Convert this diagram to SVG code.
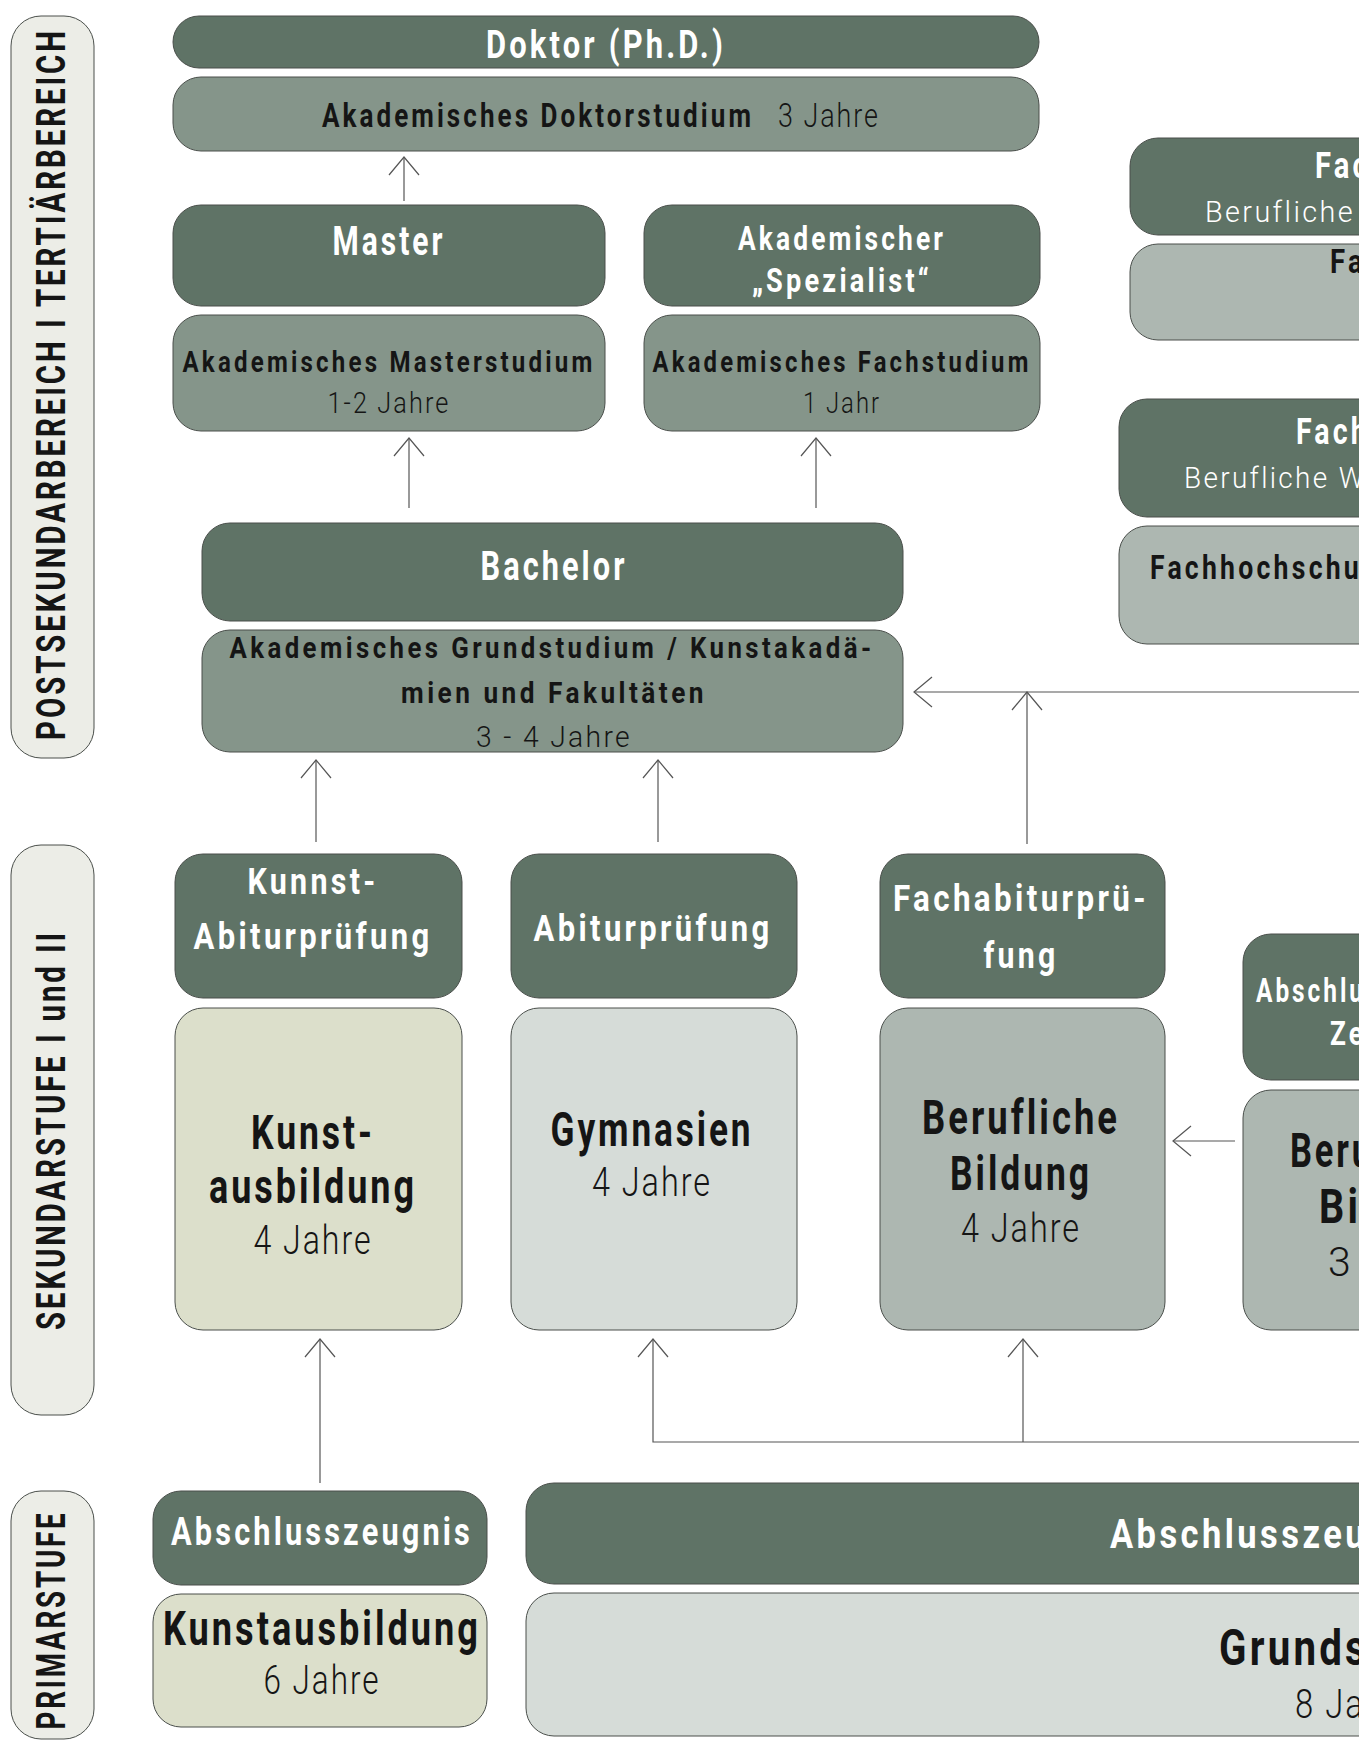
<svg xmlns="http://www.w3.org/2000/svg" width="1359" height="1753" viewBox="0 0 1359 1753">
<style>
text{font-family:Roboto,"Liberation Sans",sans-serif;}
.b{font-weight:700;letter-spacing:4px;}
.l{font-weight:300;letter-spacing:2.5px;}
.w{fill:#ffffff;}
.k{fill:#151515;}
.c{text-anchor:middle;}
.dark{fill:#5f7366;stroke:#4a4f4b;stroke-width:1;}
.mid{fill:#85958a;stroke:#4a4f4b;stroke-width:1;}
.sage{fill:#adb7b1;stroke:#4a4f4b;stroke-width:1;}
.pale{fill:#d6dcd8;stroke:#4a4f4b;stroke-width:1;}
.beige{fill:#dcdfcb;stroke:#4a4f4b;stroke-width:1;}
.lab{fill:#ecede7;stroke:#4a4f4b;stroke-width:1;}
.con{fill:none;stroke:#555;stroke-width:1.2;}
</style>
<defs>
<marker id="ah" markerUnits="userSpaceOnUse" markerWidth="40" markerHeight="40" refX="0" refY="0" viewBox="-20 -20 40 40" orient="auto" overflow="visible">
<path d="M-18,-15 L0,0 L-18,15" fill="none" stroke="#555" stroke-width="1.2"/>
</marker>
</defs>
<rect width="1359" height="1753" fill="#ffffff"/>

<g id="label-tertiaer">
<rect class="lab" x="11" y="16" width="83" height="742" rx="30"/>
<text class="b k c" font-size="40" textLength="712" lengthAdjust="spacingAndGlyphs" transform="translate(65,384) rotate(-90)">POSTSEKUNDARBEREICH  I  TERTIÄRBEREICH</text>
</g>
<g id="label-sekundar">
<rect class="lab" x="11" y="845" width="83" height="570" rx="30"/>
<text class="b k c" font-size="40" textLength="400" lengthAdjust="spacingAndGlyphs" transform="translate(65,1130) rotate(-90)">SEKUNDARSTUFE I und II</text>
</g>
<g id="label-primar">
<rect class="lab" x="11" y="1491" width="83" height="248" rx="30"/>
<text class="b k c" font-size="40" textLength="219" lengthAdjust="spacingAndGlyphs" transform="translate(65,1620) rotate(-90)">PRIMARSTUFE</text>
</g>

<g id="connectors">
<line class="con" x1="404" y1="201" x2="404" y2="157" marker-end="url(#ah)"/>
<line class="con" x1="409" y1="508" x2="409" y2="438" marker-end="url(#ah)"/>
<line class="con" x1="816" y1="508" x2="816" y2="438" marker-end="url(#ah)"/>
<line class="con" x1="316" y1="842" x2="316" y2="760" marker-end="url(#ah)"/>
<line class="con" x1="658" y1="842" x2="658" y2="760" marker-end="url(#ah)"/>
<line class="con" x1="1359" y1="692" x2="914" y2="692" marker-end="url(#ah)"/>
<line class="con" x1="1027" y1="844" x2="1027" y2="692" marker-end="url(#ah)"/>
<line class="con" x1="1235" y1="1141" x2="1173" y2="1141" marker-end="url(#ah)"/>
<line class="con" x1="320" y1="1483" x2="320" y2="1339" marker-end="url(#ah)"/>
<polyline class="con" points="1359,1442 653,1442 653,1339" marker-end="url(#ah)"/>
<line class="con" x1="1023" y1="1442" x2="1023" y2="1339" marker-end="url(#ah)"/>
</g>

<g id="doktor">
<rect class="dark" x="173" y="16" width="866" height="52" rx="26"/>
<text class="b w c" x="606" y="58" font-size="39" textLength="240" lengthAdjust="spacingAndGlyphs">Doktor (Ph.D.)</text>
</g>
<g id="doktorstudium">
<rect class="mid" x="173" y="77" width="866" height="74" rx="28"/>
<text class="k" x="322" y="127" font-size="34"><tspan class="b" textLength="432" lengthAdjust="spacingAndGlyphs">Akademisches Doktorstudium</tspan><tspan class="l" x="778" textLength="102" lengthAdjust="spacingAndGlyphs">3 Jahre</tspan></text>
</g>
<g id="master">
<rect class="dark" x="173" y="205" width="432" height="101" rx="28"/>
<text class="b w c" x="389" y="255" font-size="40" textLength="113" lengthAdjust="spacingAndGlyphs">Master</text>
</g>
<g id="masterstudium">
<rect class="mid" x="173" y="315" width="432" height="116" rx="28"/>
<text class="b k c" x="389" y="372" font-size="30" textLength="413" lengthAdjust="spacingAndGlyphs">Akademisches Masterstudium</text>
<text class="l k c" x="389" y="413" font-size="30" textLength="123" lengthAdjust="spacingAndGlyphs">1-2 Jahre</text>
</g>
<g id="spezialist">
<rect class="dark" x="644" y="205" width="396" height="101" rx="28"/>
<text class="b w c" x="842" y="250" font-size="34" textLength="208" lengthAdjust="spacingAndGlyphs">Akademischer</text>
<text class="b w c" x="842" y="292" font-size="34" textLength="180" lengthAdjust="spacingAndGlyphs">„Spezialist“</text>
</g>
<g id="fachstudium">
<rect class="mid" x="644" y="315" width="396" height="116" rx="28"/>
<text class="b k c" x="842" y="372" font-size="30" textLength="379" lengthAdjust="spacingAndGlyphs">Akademisches Fachstudium</text>
<text class="l k c" x="842" y="413" font-size="30" textLength="78" lengthAdjust="spacingAndGlyphs">1 Jahr</text>
</g>
<g id="bachelor">
<rect class="dark" x="202" y="523" width="701" height="98" rx="28"/>
<text class="b w c" x="554" y="580" font-size="40" textLength="147" lengthAdjust="spacingAndGlyphs">Bachelor</text>
</g>
<g id="grundstudium">
<rect class="mid" x="202" y="630" width="701" height="122" rx="28"/>
<text class="b k c" x="552" y="658" font-size="30" textLength="645" lengthAdjust="spacingAndGlyphs">Akademisches Grundstudium / Kunstakadä-</text>
<text class="b k c" x="554" y="703" font-size="30" textLength="306" lengthAdjust="spacingAndGlyphs">mien und Fakultäten</text>
<text class="l k c" x="554" y="747" font-size="30" textLength="156" lengthAdjust="spacingAndGlyphs">3 - 4 Jahre</text>
</g>

<g id="fh-master">
<rect class="dark" x="1130" y="138" width="300" height="97" rx="28"/>
<text class="b w" x="1315" y="178" font-size="36" textLength="56" lengthAdjust="spacingAndGlyphs">Fac</text>
<text class="l w" x="1205" y="222" font-size="30" textLength="150" lengthAdjust="spacingAndGlyphs">Berufliche</text>
</g>
<g id="fh-masterstudium">
<rect class="sage" x="1130" y="244" width="300" height="96" rx="28"/>
<text class="b k" x="1330" y="273" font-size="33" textLength="36" lengthAdjust="spacingAndGlyphs">Fa</text>
</g>
<g id="fh-bachelor">
<rect class="dark" x="1119" y="399" width="300" height="118" rx="28"/>
<text class="b w" x="1296" y="444" font-size="36" textLength="74" lengthAdjust="spacingAndGlyphs">Fach</text>
<text class="l w" x="1184" y="488" font-size="30" textLength="182" lengthAdjust="spacingAndGlyphs">Berufliche W</text>
</g>
<g id="fh-bachelorstudium">
<rect class="sage" x="1119" y="526" width="300" height="118" rx="28"/>
<text class="b k" x="1150" y="579" font-size="33" textLength="212" lengthAdjust="spacingAndGlyphs">Fachhochschu</text>
</g>

<g id="kunst-abitur">
<rect class="dark" x="175" y="854" width="287" height="144" rx="28"/>
<text class="b w c" x="313" y="894" font-size="37" textLength="131" lengthAdjust="spacingAndGlyphs">Kunnst-</text>
<text class="b w c" x="313" y="949" font-size="37" textLength="239" lengthAdjust="spacingAndGlyphs">Abiturprüfung</text>
</g>
<g id="abitur">
<rect class="dark" x="511" y="854" width="286" height="144" rx="28"/>
<text class="b w c" x="653" y="941" font-size="37" textLength="239" lengthAdjust="spacingAndGlyphs">Abiturprüfung</text>
</g>
<g id="fachabitur">
<rect class="dark" x="880" y="854" width="285" height="144" rx="28"/>
<text class="b w c" x="1021" y="911" font-size="37" textLength="256" lengthAdjust="spacingAndGlyphs">Fachabiturprü-</text>
<text class="b w c" x="1021" y="968" font-size="37" textLength="75" lengthAdjust="spacingAndGlyphs">fung</text>
</g>
<g id="kunstausbildung-sek">
<rect class="beige" x="175" y="1008" width="287" height="322" rx="28"/>
<text class="b k c" x="313" y="1149" font-size="48" textLength="124" lengthAdjust="spacingAndGlyphs">Kunst-</text>
<text class="b k c" x="313" y="1203" font-size="48" textLength="208" lengthAdjust="spacingAndGlyphs">ausbildung</text>
<text class="l k c" x="313" y="1254" font-size="41" textLength="119" lengthAdjust="spacingAndGlyphs">4 Jahre</text>
</g>
<g id="gymnasien">
<rect class="pale" x="511" y="1008" width="286" height="322" rx="28"/>
<text class="b k c" x="652" y="1146" font-size="48" textLength="203" lengthAdjust="spacingAndGlyphs">Gymnasien</text>
<text class="l k c" x="652" y="1196" font-size="41" textLength="120" lengthAdjust="spacingAndGlyphs">4 Jahre</text>
</g>
<g id="berufliche-bildung-4">
<rect class="sage" x="880" y="1008" width="285" height="322" rx="28"/>
<text class="b k c" x="1021" y="1134" font-size="48" textLength="198" lengthAdjust="spacingAndGlyphs">Berufliche</text>
<text class="b k c" x="1021" y="1190" font-size="48" textLength="142" lengthAdjust="spacingAndGlyphs">Bildung</text>
<text class="l k c" x="1021" y="1242" font-size="41" textLength="120" lengthAdjust="spacingAndGlyphs">4 Jahre</text>
</g>
<g id="abschluss-zeugnis-sek">
<rect class="dark" x="1243" y="934" width="300" height="146" rx="28"/>
<text class="b w" x="1256" y="1002" font-size="33" textLength="110" lengthAdjust="spacingAndGlyphs">Abschlu</text>
<text class="b w" x="1330" y="1045" font-size="33" textLength="36" lengthAdjust="spacingAndGlyphs">Ze</text>
</g>
<g id="berufliche-bildung-3">
<rect class="sage" x="1243" y="1090" width="300" height="240" rx="28"/>
<text class="b k" x="1290" y="1167" font-size="48" textLength="84" lengthAdjust="spacingAndGlyphs">Beru</text>
<text class="b k" x="1319" y="1223" font-size="48" textLength="56" lengthAdjust="spacingAndGlyphs">Bil</text>
<text class="l k" x="1328" y="1276" font-size="41">3</text>
</g>

<g id="abschluss-primar-kunst">
<rect class="dark" x="153" y="1491" width="334" height="94" rx="28"/>
<text class="b w c" x="322" y="1545" font-size="39" textLength="302" lengthAdjust="spacingAndGlyphs">Abschlusszeugnis</text>
</g>
<g id="kunstausbildung-primar">
<rect class="beige" x="153" y="1594" width="334" height="133" rx="28"/>
<text class="b k c" x="322" y="1645" font-size="48" textLength="318" lengthAdjust="spacingAndGlyphs">Kunstausbildung</text>
<text class="l k c" x="322" y="1694" font-size="40" textLength="117" lengthAdjust="spacingAndGlyphs">6 Jahre</text>
</g>
<g id="abschluss-primar">
<rect class="dark" x="526" y="1483" width="1000" height="101" rx="28"/>
<text class="b w" x="1110" y="1548" font-size="40" textLength="258" lengthAdjust="spacingAndGlyphs">Abschlusszeu</text>
</g>
<g id="grundschule">
<rect class="pale" x="526" y="1593" width="1000" height="143" rx="28"/>
<text class="b k" x="1219" y="1665" font-size="50" textLength="150" lengthAdjust="spacingAndGlyphs">Grunds</text>
<text class="l k" x="1295" y="1718" font-size="40" textLength="70" lengthAdjust="spacingAndGlyphs">8 Ja</text>
</g>
</svg>
